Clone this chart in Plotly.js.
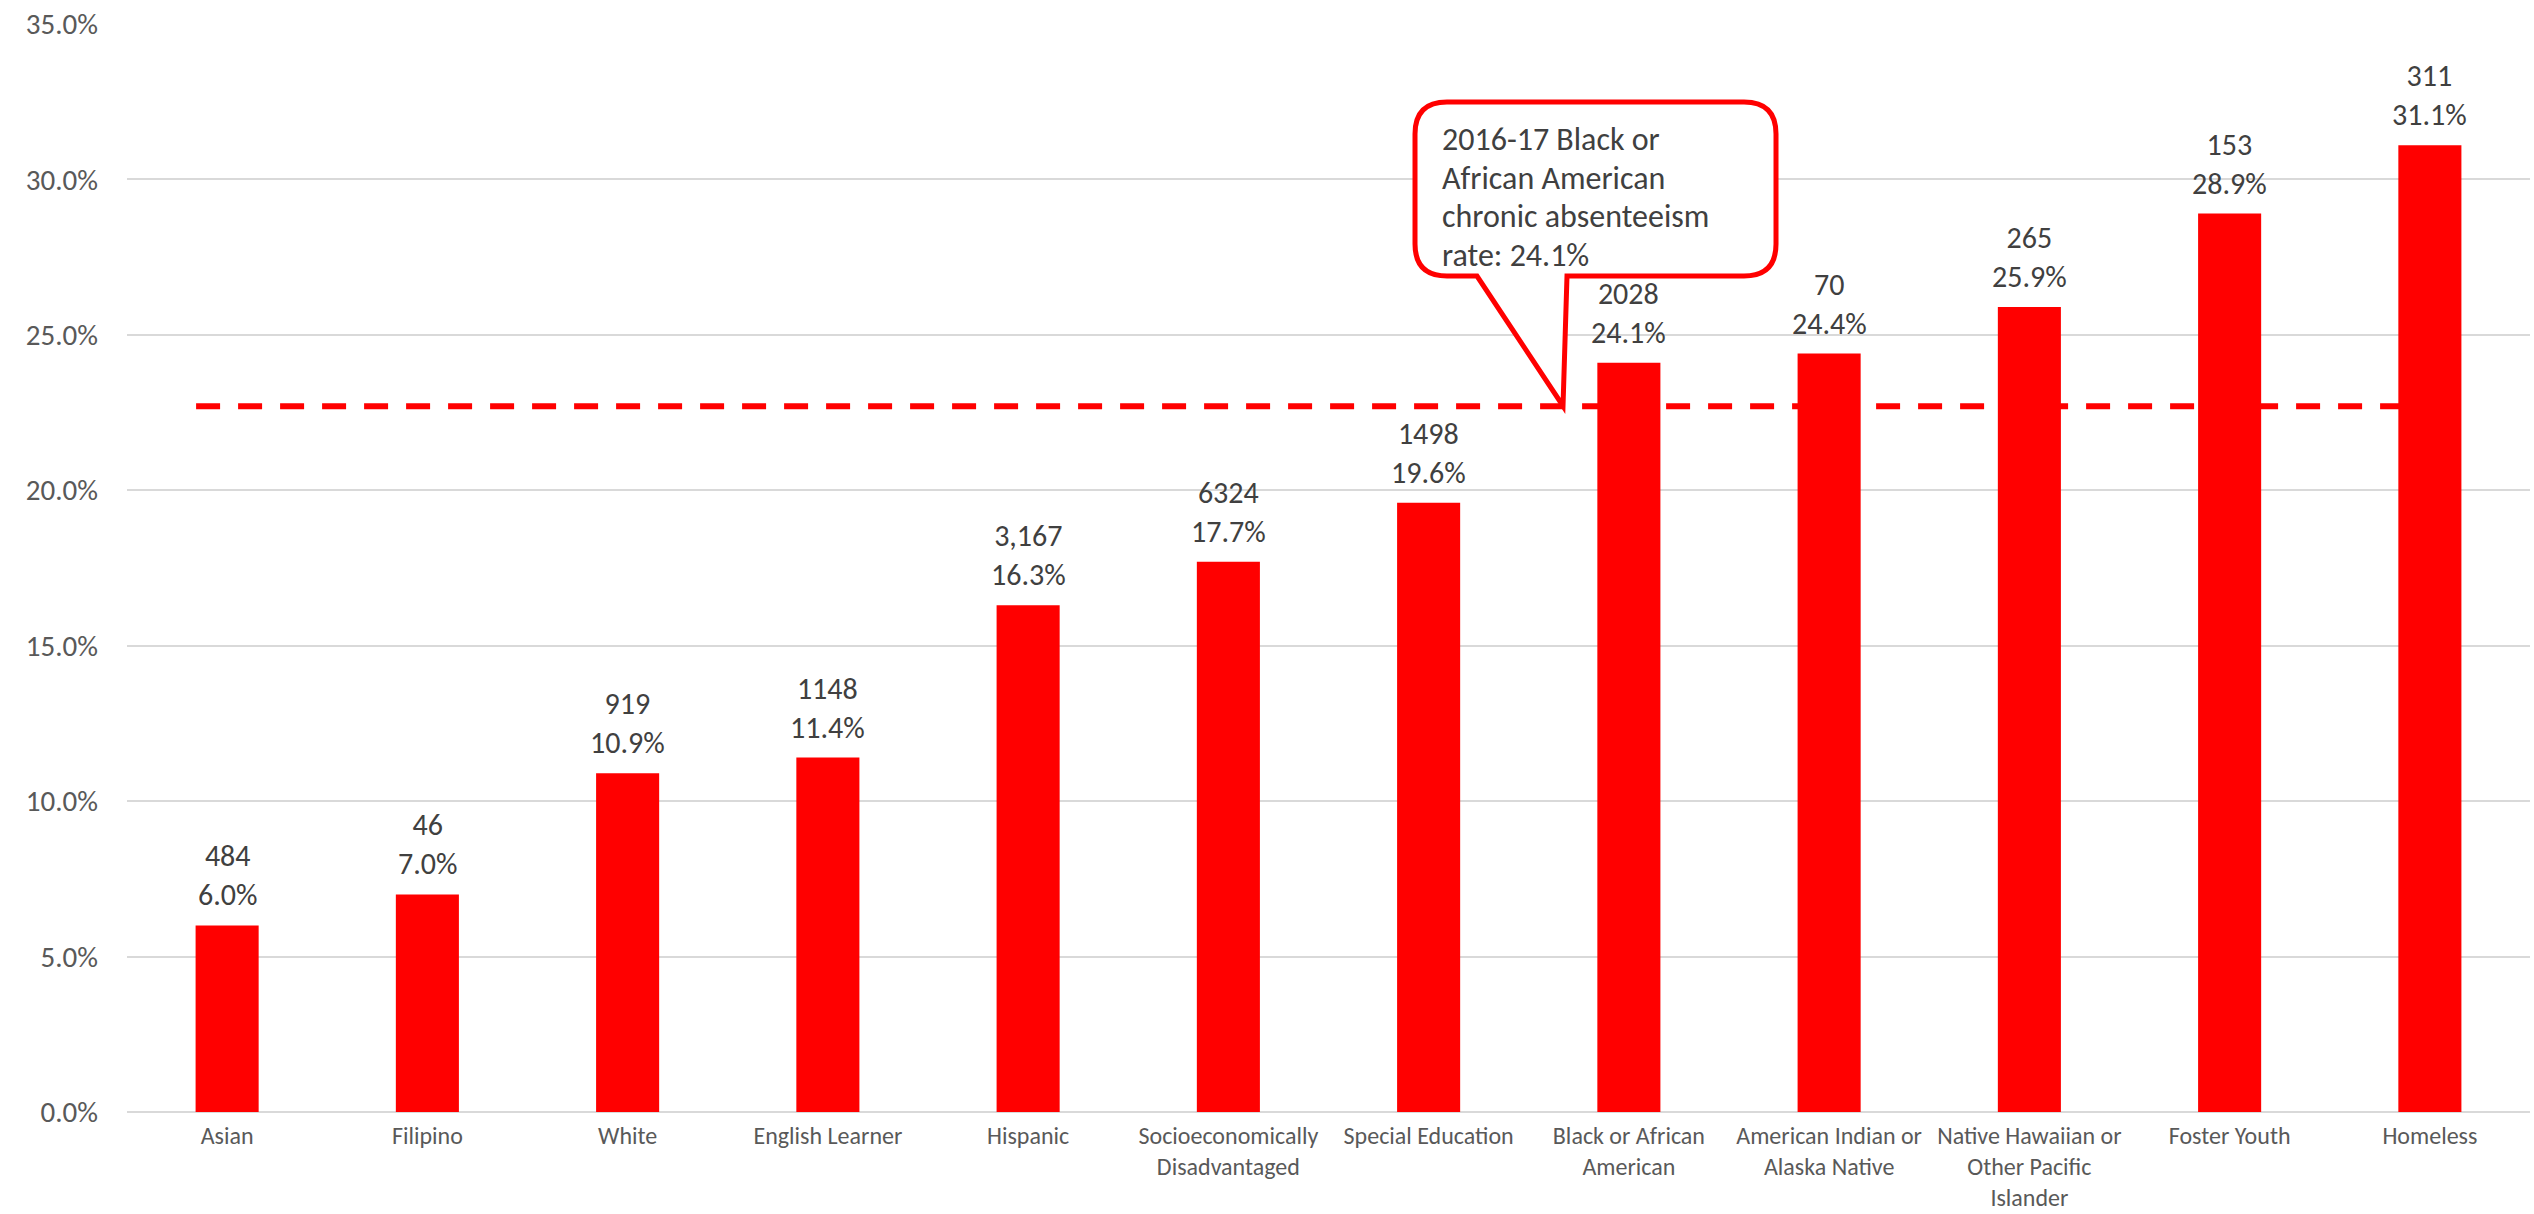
<!DOCTYPE html>
<html>
<head>
<meta charset="utf-8">
<script src="https://cdn.plot.ly/plotly-3.0.1.min.js"></script>
<style>
  html, body { margin: 0; padding: 0; background: #ffffff; }
  #chart { width: 2534px; height: 1214px; }
</style>
</head>
<body>
<div id="chart"></div>
<script>
// ---- Data ----
const categories = [
  "Asian", "Filipino", "White", "English Learner", "Hispanic",
  "Socioeconomically Disadvantaged", "Special Education",
  "Black or African American", "American Indian or Alaska Native",
  "Native Hawaiian or Other Pacific Islander", "Foster Youth", "Homeless"
];
const tickLabels = [
  "Asian", "Filipino", "White", "English Learner", "Hispanic",
  "Socioeconomically<br>Disadvantaged", "Special Education",
  "Black or African<br>American", "American Indian or<br>Alaska Native",
  "Native Hawaiian or<br>Other Pacific<br>Islander", "Foster Youth", "Homeless"
];
const rates = [6.0, 7.0, 10.9, 11.4, 16.3, 17.7, 19.6, 24.1, 24.4, 25.9, 28.9, 31.1];
const counts = ["484", "46", "919", "1148", "3,167", "6324", "1498", "2028", "70", "265", "153", "311"];
const referenceRate = 22.7;
const calloutLines = ["2016-17 Black or", "African American", "chronic absenteeism", "rate: 24.1%"];

// ---- Layout geometry ----
const W = 2534, H = 1214;
const M = { l: 127, r: 4, t: 24, b: 102 };
const PW = W - M.l - M.r, PH = H - M.t - M.b;
const px = x => (x - M.l) / PW;       // pixel -> paper x
const py = y => (H - M.b - y) / PH;   // pixel -> paper y

const FONT = "Calibri, Carlito, Lato, 'Liberation Sans', sans-serif";

// Speech-bubble callout path (paper coords)
function bubblePath() {
  const L = 1415, T = 102, R = 1776, B = 276, r = 32;
  const p1 = 1477, p2 = 1567, tipX = 1563, tipY = 406;
  const P = (x, y) => px(x).toFixed(5) + "," + py(y).toFixed(5);
  return "M" + P(L + r, T) +
    " L" + P(R - r, T) +
    " Q" + P(R, T) + " " + P(R, T + r) +
    " L" + P(R, B - r) +
    " Q" + P(R, B) + " " + P(R - r, B) +
    " L" + P(p2, B) +
    " L" + P(tipX, tipY) +
    " L" + P(p1, B) +
    " L" + P(L + r, B) +
    " Q" + P(L, B) + " " + P(L, B - r) +
    " L" + P(L, T + r) +
    " Q" + P(L, T) + " " + P(L + r, T) + " Z";
}

const bars = {
  type: "bar",
  x: categories,
  y: rates,
  marker: { color: "#FF0000" },
  hoverinfo: "x+y",
  cliponaxis: false
};

const labelAnnotations = categories.map((c, i) => ({
  x: c, y: rates[i], xref: "x", yref: "y",
  text: counts[i] + "<br>" + rates[i].toFixed(1) + "%",
  showarrow: false, yanchor: "bottom", xanchor: "center",
  yshift: 10,
  font: { family: FONT, size: 30, color: "#404040" }
}));

const calloutAnnotations = calloutLines.map((t, i) => ({
  xref: "paper", yref: "paper",
  x: px(1440), y: py(140 + i * 38.5),
  xanchor: "left", yanchor: "middle", align: "left",
  text: t, showarrow: false,
  font: { family: FONT, size: 32, color: "#404040" }
}));

const layout = {
  width: W, height: H,
  margin: M,
  paper_bgcolor: "#ffffff",
  plot_bgcolor: "#ffffff",
  showlegend: false,
  bargap: 0.685,
  xaxis: {
    type: "category",
    tickvals: categories,
    ticktext: tickLabels,
    showgrid: false,
    showline: false,
    zeroline: false,
    ticks: "",
    tickfont: { family: FONT, size: 24, color: "#595959" },
    ticklabelstandoff: 7
  },
  yaxis: {
    range: [0, 35],
    dtick: 5,
    tick0: 0,
    tickformat: ".1f",
    ticksuffix: "%",
    showgrid: true,
    gridcolor: "#d9d9d9",
    gridwidth: 2,
    zeroline: true,
    zerolinecolor: "#d9d9d9",
    zerolinewidth: 2,
    showline: false,
    ticks: "",
    tickfont: { family: FONT, size: 29, color: "#595959" },
    ticklabelstandoff: 28
  },
  shapes: [
    {
      type: "line", xref: "x", yref: "y",
      x0: -0.155, x1: 11, y0: referenceRate, y1: referenceRate,
      line: { color: "#FF0000", width: 6, dash: "24px,18px" },
      layer: "between"
    },
    {
      type: "path", xref: "paper", yref: "paper",
      path: bubblePath(),
      fillcolor: "#ffffff",
      line: { color: "#FF0000", width: 5 },
      layer: "above"
    }
  ],
  annotations: labelAnnotations.concat(calloutAnnotations)
};

Plotly.newPlot("chart", [bars], layout, { displayModeBar: false, responsive: false });
</script>
</body>
</html>
